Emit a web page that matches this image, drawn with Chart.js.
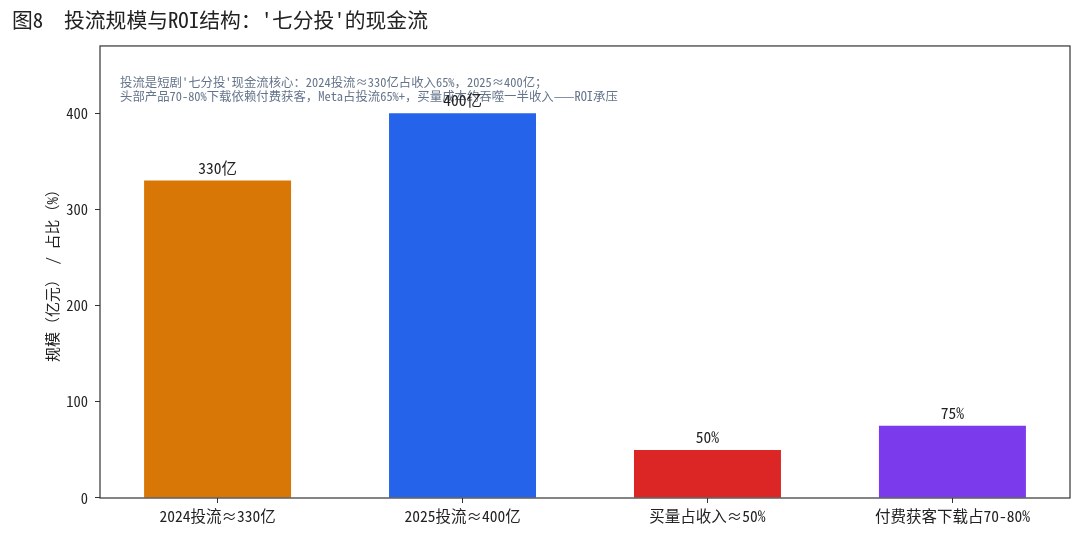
<!DOCTYPE html>
<html>
<head>
<meta charset="utf-8">
<script src="https://cdn.jsdelivr.net/npm/chart.js@4.4.0/dist/chart.umd.min.js"></script>
<style>
  html, body { margin: 0; padding: 0; background: #fff; }
  #wrap { width: 1080px; height: 534px; }
</style>
</head>
<body>
<div id="wrap"><canvas id="roiChart" width="1080" height="534"></canvas></div>
<script>
const FONT = '"Noto Sans Mono CJK SC", "Noto Sans CJK SC", "DejaVu Sans Mono", monospace';

const categories = ['2024投流≈330亿', '2025投流≈400亿', '买量占收入≈50%', '付费获客下载占70-80%'];
const values = [330, 400, 50, 75];
const valueLabels = ['330亿', '400亿', '50%', '75%'];
const barColors = ['#d97706', '#2563eb', '#dc2626', '#7c3aed'];
const yTicks = [0, 100, 200, 300, 400];
const noteLines = [
    "投流是短剧'七分投'现金流核心：2024投流≈330亿占收入65%，2025≈400亿；",
    "头部产品70-80%下载依赖付费获客，Meta占投流65%+，买量成本约吞噬一半收入——ROI承压"
];

// bars sit on index positions 0..n-1 of a linear axis (matplotlib-like margins)
const barPoints = values.map((v, i) => ({ x: i, y: v }));

// frame, note text and value labels on top of the bars
const extras = {
    id: 'extras',
    afterDatasetsDraw(chart) {
        const { ctx, chartArea: a } = chart;
        ctx.save();
        ctx.strokeStyle = '#333';
        ctx.lineWidth = 1.2;
        ctx.strokeRect(a.left, a.top, a.right - a.left, a.bottom - a.top);

        ctx.fillStyle = '#64748b';
        ctx.font = '12.4px ' + FONT;
        ctx.textAlign = 'left';
        ctx.textBaseline = 'middle';
        noteLines.forEach((t, i) => ctx.fillText(t, 120, 82 + i * 14));

        ctx.fillStyle = '#222';
        ctx.font = '15.5px ' + FONT;
        ctx.textAlign = 'center';
        ctx.textBaseline = 'bottom';
        chart.getDatasetMeta(0).data.forEach((bar, i) => {
            ctx.fillText(valueLabels[i], bar.x, bar.y - 5);
        });
        ctx.restore();
    }
};

const ctx = document.getElementById('roiChart').getContext('2d');
const roiChart = new Chart(ctx, {
    type: 'bar',
    data: {
        datasets: [{
            data: barPoints,
            backgroundColor: barColors,
            borderWidth: 0,
            barPercentage: 0.6,
            categoryPercentage: 1.0
        }]
    },
    options: {
        responsive: false,
        animation: false,
        layout: { padding: { left: 12, right: 10, top: 0, bottom: 0 } },
        plugins: {
            legend: { display: false },
            tooltip: { enabled: false },
            title: {
                display: true,
                text: "图8  投流规模与ROI结构：'七分投'的现金流",
                align: 'start',
                color: '#222',
                font: { family: FONT, size: 20.8, weight: 'normal' },
                padding: { top: 8, bottom: 13 }
            }
        },
        scales: {
            x: {
                type: 'linear',
                min: -0.48,
                max: 3.48,
                offset: false,
                grid: { display: true, drawOnChartArea: false, offset: false, tickLength: 5, tickColor: '#333' },
                border: { display: false },
                afterBuildTicks(scale) { scale.ticks = categories.map((c, i) => ({ value: i })); },
                ticks: {
                    color: '#222',
                    font: { family: FONT, size: 15.5 },
                    padding: 4,
                    maxRotation: 0,
                    autoSkip: false,
                    callback: (v) => categories[v]
                },
                afterFit(scale) { scale.height = 36; }
            },
            y: {
                min: 0,
                max: 470,
                grid: { display: true, drawOnChartArea: false, tickLength: 5, tickColor: '#333' },
                border: { display: false },
                afterBuildTicks(scale) { scale.ticks = yTicks.map(v => ({ value: v })); },
                ticks: { color: '#222', font: { family: FONT, size: 14.5 }, padding: 7 },
                title: {
                    display: true,
                    text: '规模（亿元） / 占比（%）',
                    color: '#222',
                    font: { family: FONT, size: 15 },
                    padding: { top: 31, bottom: 0 }
                },
                afterFit(scale) { scale.width = 88; }
            }
        }
    },
    plugins: [extras]
});
</script>
</body>
</html>
